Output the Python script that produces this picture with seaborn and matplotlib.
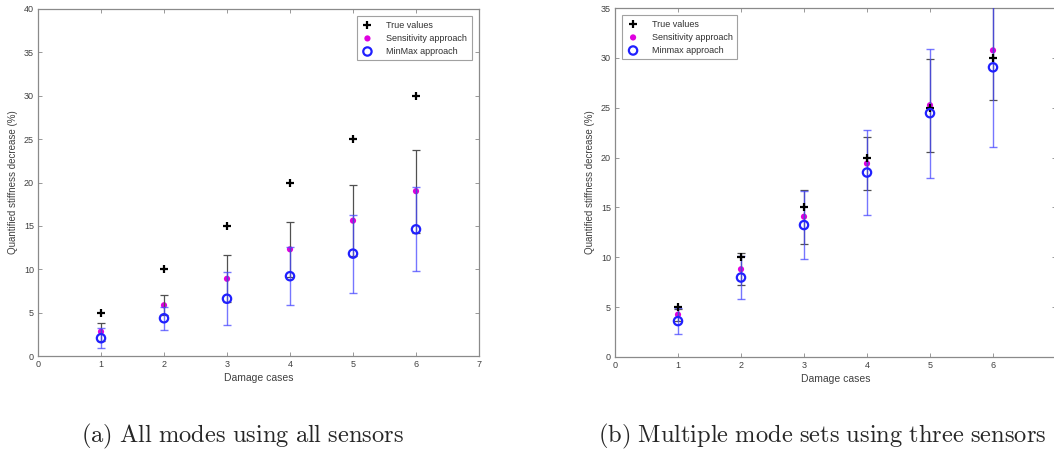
import numpy as np
import pandas as pd
import matplotlib
matplotlib.use("Agg")
import matplotlib.pyplot as plt
import seaborn as sns

# ---- data ----
cases = [1, 2, 3, 4, 5, 6]
true_values = [5, 10, 15, 20, 25, 30]

# (a) all modes, all sensors
sens_a = [2.8, 5.85, 8.9, 12.3, 15.6, 19.0]
sens_err_a = [1.05, 1.15, 2.7, 3.2, 4.1, 4.8]
minmax_a = [2.05, 4.35, 6.6, 9.2, 11.8, 14.6]
minmax_err_a = [1.15, 1.35, 3.05, 3.35, 4.5, 4.85]

# (b) multiple mode sets, three sensors
sens_b = [4.25, 8.8, 14.07, 19.4, 25.25, 30.75]
sens_err_b = [0.6, 1.6, 2.7, 2.7, 4.65, 5.0]
minmax_b = [3.6, 7.97, 13.23, 18.5, 24.45, 29.05]
minmax_err_b = [1.3, 2.2, 3.4, 4.3, 6.45, 8.0]

captions = [r"$\mathrm{(a)\ All\ modes\ using\ all\ sensors}$",
            r"$\mathrm{(b)\ Multiple\ mode\ sets\ using\ three\ sensors}$"]
minmax_names = ["MinMax approach", "Minmax approach"]

sns.set_style("ticks")
plt.rcParams['font.family'] = ['Liberation Sans', 'DejaVu Sans']
plt.rcParams['mathtext.fontset'] = 'cm'

fig = plt.figure(figsize=(10.54, 4.51), dpi=100)
W, H = 1054, 451
ax_a = fig.add_axes([38 / W, 1 - 356 / H, 441 / W, 347 / H])
ax_b = fig.add_axes([615 / W, 1 - 357 / H, 441 / W, 349 / H])


def draw(ax, sens, sens_err, mm, mm_err, ymax, mm_name, legend_loc, xlabels):
    df_t = pd.DataFrame({"case": cases, "val": true_values})
    df_s = pd.DataFrame({"case": cases, "val": sens})
    df_m = pd.DataFrame({"case": cases, "val": mm})
    sns.scatterplot(data=df_t, x="case", y="val", ax=ax, marker='+', color='black',
                    s=36, linewidth=1.6, label="True values", zorder=6)
    sns.scatterplot(data=df_s, x="case", y="val", ax=ax, color='#e000e0',
                    s=20, edgecolor='none', label="Sensitivity approach", zorder=3)
    sns.scatterplot(data=df_m, x="case", y="val", ax=ax, facecolor='none',
                    edgecolor='#2020ff', linewidth=1.6, s=36, label=mm_name, zorder=6)
    ax.errorbar(cases, sens, yerr=sens_err, fmt='none', ecolor='#505050',
                elinewidth=0.9, capsize=3, capthick=0.9, zorder=4)
    ax.errorbar(cases, mm, yerr=mm_err, fmt='none', ecolor='#4848ff',
                elinewidth=1.0, capsize=3, capthick=1.0, alpha=0.75, zorder=5)
    ax.set_xlim(0, 7)
    ax.set_ylim(0, ymax)
    ax.set_xticks(range(0, 8))
    ax.set_xticklabels(xlabels)
    ax.set_yticks(range(0, ymax + 1, 5))
    ax.set_xlabel("Damage cases", fontsize=7.5, color='#404040', labelpad=3)
    ax.set_ylabel("Quantified stiffness decrease (%)", fontsize=7, color='#404040', labelpad=4)
    ax.tick_params(direction='in', top=True, right=True, length=3, width=0.6,
                   color='#888888', labelsize=6.5, labelcolor='#404040', pad=3)
    for sp in ax.spines.values():
        sp.set_visible(True)
        sp.set_color('#8a8a8a')
        sp.set_linewidth(0.9)
    leg = ax.legend(loc=legend_loc, fontsize=6.5, frameon=True, fancybox=False,
                    borderpad=0.5, handletextpad=1.4, labelspacing=0.45,
                    handlelength=1.4, borderaxespad=0.8)
    leg.get_frame().set_edgecolor('#8a8a8a')
    leg.get_frame().set_linewidth(0.8)
    for t in leg.get_texts():
        t.set_color('#303030')


draw(ax_a, sens_a, sens_err_a, minmax_a, minmax_err_a, 40, minmax_names[0],
     'upper right', [str(i) for i in range(8)])
draw(ax_b, sens_b, sens_err_b, minmax_b, minmax_err_b, 35, minmax_names[1],
     'upper left', [str(i) for i in range(7)] + [""])

fig.text(243 / W, 1 - 436 / H, captions[0], ha='center', va='center', fontsize=17.6)
fig.text(822 / W, 1 - 436 / H, captions[1], ha='center', va='center', fontsize=17.6)

fig.savefig("out.png", dpi=100)
